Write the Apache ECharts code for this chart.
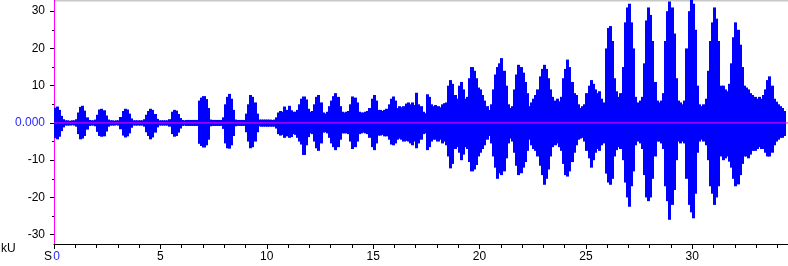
<!DOCTYPE html>
<html>
<head>
<meta charset="utf-8">
<script src="https://cdn.jsdelivr.net/npm/echarts@6/dist/echarts.min.js"></script>
<style>
html,body{margin:0;padding:0;background:#fff;}
#chart{width:788px;height:266px;}
</style>
</head>
<body>
<div id="chart"></div>
<script>
// Time bins (seconds): bin i starts at START + i*STEP
const START = 0;
const STEP = 0.1;

// Upper envelope of the signal (kU) per 0.1 s bin
const upper = [
  4.1, 4.4, 3.5, 1.9, 1.0, 0.7, 0.7, 0.6, 0.7, 0.7,
  1.0, 2.8, 4.3, 4.6, 3.3, 1.5, 0.8, 0.7, 0.7, 0.9,
  2.2, 3.6, 3.8, 3.4, 2.0, 0.9, 0.7, 0.7, 0.6, 0.7,
  0.7, 1.6, 3.2, 3.8, 3.6, 2.5, 1.2, 0.7, 0.7, 0.7,
  0.7, 0.7, 1.0, 2.2, 3.2, 3.8, 3.5, 2.4, 1.1, 0.7,
  0.7, 0.7, 0.7, 0.7, 1.0, 3.0, 3.5, 3.3, 2.4, 1.3,
  0.8, 0.7, 0.8, 0.8, 0.8, 0.8, 0.8, 0.8, 6.0, 6.8,
  7.2, 6.4, 4.0, 0.9, 0.8, 0.8, 0.8, 0.8, 0.8, 1.5,
  5.0, 7.0, 7.8, 6.5, 3.5, 0.9, 0.8, 0.8, 0.8, 0.8,
  2.5, 5.0, 7.5, 7.0, 5.5, 2.5, 0.9, 0.9, 0.9, 0.9,
  0.9, 0.9, 0.8, 0.9, 1.5, 2.8, 3.2, 3.0, 4.4, 3.5,
  4.6, 3.4, 3.0, 3.0, 3.5, 5.0, 6.5, 7.1, 6.3, 3.8,
  3.0, 3.2, 5.0, 7.0, 7.5, 5.5, 2.8, 2.5, 3.0, 4.5,
  6.0, 7.2, 8.0, 7.0, 4.5, 3.0, 2.8, 3.0, 3.2, 5.0,
  7.1, 6.8, 5.5, 3.0, 2.8, 2.8, 3.0, 3.2, 4.0, 6.5,
  7.5, 6.0, 3.5, 3.5, 3.2, 3.5, 3.8, 5.0, 6.5, 7.1,
  6.0, 4.0, 4.5, 4.2, 4.5, 5.2, 5.5, 5.0, 5.5, 4.8,
  8.1, 5.0, 4.5, 3.0, 2.6, 7.7, 7.0, 5.0, 4.5, 4.8,
  4.5, 4.2, 5.0, 5.3, 5.5, 10.0, 11.5, 10.5, 7.5, 6.5,
  10.0, 11.0, 9.0, 6.5, 7.0, 12.0, 15.0, 14.0, 12.0, 9.5,
  9.0, 7.5, 6.0, 4.5, 3.5, 5.0, 9.0, 13.0, 15.0, 16.0,
  17.4, 14.0, 10.0, 5.0, 4.0, 4.5, 9.0, 13.0, 15.6, 15.0,
  13.5, 11.0, 8.0, 4.5, 5.5, 6.5, 7.5, 9.0, 12.5, 14.5,
  15.6, 14.5, 12.0, 9.0, 7.0, 6.0, 6.5, 5.8, 7.0, 12.0,
  14.5, 17.0, 15.0, 11.0, 8.0, 7.5, 5.0, 4.0, 4.5, 5.0,
  8.0, 10.0, 11.5, 10.5, 9.0, 8.0, 8.5, 6.5, 5.5, 20.0,
  25.5, 26.0, 22.0, 12.0, 8.5, 7.0, 8.0, 15.0, 27.0, 31.0,
  32.0, 27.0, 20.0, 7.0, 5.5, 6.0, 7.0, 16.0, 27.5, 31.0,
  29.0, 22.0, 11.0, 6.0, 5.5, 6.0, 8.0, 22.0, 30.0, 32.6,
  31.0, 24.0, 12.0, 6.0, 5.5, 5.0, 6.0, 20.0, 30.0, 33.0,
  32.0, 25.0, 10.0, 5.0, 4.5, 5.0, 6.5, 14.0, 22.0, 27.0,
  31.0, 28.0, 22.0, 10.0, 10.0, 9.0, 8.5, 10.5, 16.0, 23.0,
  27.0, 25.0, 21.0, 15.0, 10.0, 9.5, 9.0, 8.0, 7.5, 7.0,
  6.5, 7.0, 6.5, 7.5, 9.0, 11.5, 12.5, 10.0, 6.5, 5.7,
  5.0, 4.5, 4.0, 3.2
];

// Lower envelope of the signal (kU) per 0.1 s bin
const lower = [
  -4.1, -4.4, -3.7, -2.2, -1.2, -0.7, -0.7, -0.7, -0.6, -0.7,
  -1.0, -3.0, -4.4, -4.2, -3.5, -1.8, -0.8, -0.7, -0.7, -0.9,
  -2.4, -3.5, -3.7, -3.6, -2.3, -1.0, -0.7, -0.7, -0.7, -0.6,
  -0.7, -1.7, -3.4, -3.9, -3.6, -2.8, -1.3, -0.7, -0.7, -0.7,
  -0.7, -0.7, -1.0, -2.5, -3.5, -4.4, -3.9, -2.6, -1.2, -0.7,
  -0.7, -0.7, -0.7, -0.7, -1.0, -3.0, -3.7, -3.5, -2.6, -1.5,
  -0.8, -0.7, -0.8, -0.8, -0.8, -0.8, -0.8, -0.8, -5.6, -6.2,
  -6.6, -6.0, -4.5, -0.9, -0.8, -0.8, -0.8, -0.8, -0.8, -1.6,
  -5.5, -6.8, -6.9, -6.0, -3.5, -0.9, -0.8, -0.8, -0.8, -0.8,
  -2.5, -5.0, -6.8, -6.5, -5.0, -2.5, -0.9, -1.0, -1.0, -1.0,
  -1.0, -1.0, -1.0, -1.0, -1.5, -3.0, -3.4, -3.2, -4.0, -3.6,
  -4.0, -3.8, -3.0, -3.2, -4.0, -5.0, -5.8, -8.6, -6.0, -3.8,
  -2.8, -3.0, -5.0, -6.8, -7.5, -5.5, -2.6, -2.5, -2.8, -4.0,
  -5.5, -6.5, -7.3, -6.5, -4.5, -2.8, -2.8, -2.8, -3.0, -5.0,
  -7.0, -6.5, -5.0, -3.0, -2.8, -2.6, -2.8, -3.0, -4.0, -6.5,
  -7.3, -5.5, -3.4, -3.4, -3.2, -3.6, -3.6, -4.5, -5.8, -6.0,
  -5.5, -4.5, -4.2, -4.5, -5.0, -4.8, -5.0, -5.5, -6.0, -5.0,
  -6.8, -5.5, -4.5, -3.0, -2.8, -7.3, -6.5, -5.0, -4.5, -4.5,
  -5.0, -4.5, -5.5, -5.0, -6.0, -9.0, -12.2, -11.0, -7.0, -6.5,
  -8.0, -10.0, -8.5, -6.5, -7.0, -10.5, -13.0, -12.5, -11.3, -9.0,
  -8.0, -7.0, -6.0, -4.5, -3.5, -5.5, -9.0, -12.0, -15.0, -13.5,
  -14.0, -13.0, -9.5, -5.5, -4.2, -5.0, -8.0, -11.5, -14.0, -13.5,
  -12.0, -10.5, -7.5, -4.5, -6.0, -7.0, -7.5, -9.0, -11.5, -14.0,
  -16.6, -15.0, -12.5, -9.0, -6.5, -6.0, -5.5, -6.5, -7.5, -11.0,
  -14.0, -14.4, -13.0, -10.5, -8.0, -6.0, -4.5, -4.2, -4.0, -5.0,
  -7.5, -9.5, -12.0, -10.0, -8.0, -7.0, -7.5, -6.0, -5.5, -13.6,
  -16.0, -16.6, -15.0, -9.0, -7.3, -6.5, -7.0, -10.0, -16.0, -20.0,
  -22.5, -17.0, -13.0, -6.0, -5.0, -5.5, -7.0, -14.0, -20.0, -21.0,
  -20.0, -15.0, -9.0, -5.0, -5.0, -5.5, -7.0, -17.0, -21.0, -26.0,
  -22.0, -18.0, -10.0, -5.0, -5.5, -5.0, -5.5, -15.0, -22.0, -24.0,
  -25.6, -19.0, -8.0, -5.0, -4.5, -5.0, -6.0, -10.0, -17.0, -19.0,
  -22.0, -20.0, -17.0, -9.0, -10.0, -9.5, -9.0, -10.4, -12.0, -15.0,
  -17.0, -16.5, -14.0, -11.0, -9.0, -9.0, -9.5, -8.5, -7.5, -7.5,
  -7.0, -6.5, -7.0, -7.0, -8.0, -9.0, -9.0, -8.0, -6.0, -5.0,
  -4.5, -4.0, -4.0, -3.5
];

// Axis ticks
const xMajorTicks = [0, 5, 10, 15, 20, 25, 30];
const xMinorTicks = [1, 2, 3, 4, 6, 7, 8, 9, 11, 12, 13, 14, 16, 17, 18, 19, 21, 22, 23, 24, 26, 27, 28, 29, 31, 32, 33, 34];
const yMajorTicks = [-30, -20, -10, 0, 10, 20, 30];
const yMinorTicks = [-25, -15, -5, 5, 15, 25];
const X_MIN = 0, X_MAX = 34.5;
const Y_MIN = -32.5, Y_MAX = 33;

const FONT = 'Liberation Sans, Arial, sans-serif';
const BLUE_TXT = '#2828ff';

const envData = upper.map((u, i) => [START + i * STEP, lower[i], u]);

const chart = echarts.init(document.getElementById('chart'), null, {renderer: 'canvas'});

const baseX = {
  type: 'value', min: X_MIN, max: X_MAX, position: 'bottom',
  splitLine: {show: false}
};
const baseY = {
  type: 'value', min: Y_MIN, max: Y_MAX, position: 'left',
  splitLine: {show: false}
};

chart.setOption({
  animation: false,
  backgroundColor: '#ffffff',
  grid: {left: 54, right: 0, top: 0, bottom: 22, containLabel: false},
  xAxis: [
    Object.assign({}, baseX, {
      axisLine: {show: true, onZero: false, lineStyle: {color: '#000', width: 1}},
      axisTick: {show: true, length: 5, customValues: xMajorTicks, lineStyle: {color: '#000'}},
      axisLabel: {
        show: true, customValues: xMajorTicks, margin: 7,
        fontFamily: FONT, fontSize: 12, color: '#000',
        formatter: v => v === 0 ? '{z|0}' : String(v),
        rich: {z: {color: BLUE_TXT, fontFamily: FONT, fontSize: 12, padding: [0, 0, 0, 5]}}
      }
    }),
    Object.assign({}, baseX, {
      axisLine: {show: false, onZero: false},
      axisTick: {show: true, length: 4, customValues: xMinorTicks, lineStyle: {color: '#000'}},
      axisLabel: {show: false}
    })
  ],
  yAxis: [
    Object.assign({}, baseY, {
      axisLine: {show: true, onZero: false, lineStyle: {color: '#ff00ff', width: 1}},
      axisTick: {show: true, length: 4, customValues: yMajorTicks, lineStyle: {color: '#000'}},
      axisLabel: {
        show: true, customValues: yMajorTicks, margin: 9,
        fontFamily: FONT, fontSize: 12, color: '#000',
        formatter: v => v === 0 ? '{z|0.000}' : String(v),
        rich: {z: {color: BLUE_TXT, fontFamily: FONT, fontSize: 12}}
      }
    }),
    Object.assign({}, baseY, {
      axisLine: {show: false, onZero: false},
      axisTick: {show: true, length: 2, customValues: yMinorTicks, lineStyle: {color: '#000'}},
      axisLabel: {show: false}
    })
  ],
  series: [
    {
      type: 'custom',
      xAxisIndex: 0, yAxisIndex: 0,
      encode: {x: 0, y: [1, 2]},
      data: envData,
      silent: true,
      z: 2,
      renderItem: function (params, api) {
        const t = api.value(0), lo = api.value(1), hi = api.value(2);
        const a = api.coord([t, hi]);
        const b = api.coord([t + STEP, lo]);
        const x0 = Math.floor(a[0]);
        const x1 = Math.ceil(b[0]);
        return {
          type: 'rect',
          shape: {x: x0, y: a[1], width: Math.max(1, x1 - x0), height: b[1] - a[1]},
          style: {fill: '#0000ff', stroke: null}
        };
      }
    },
    {
      type: 'line',
      xAxisIndex: 0, yAxisIndex: 0,
      data: [[X_MIN, 0], [X_MAX, 0]],
      symbol: 'none',
      silent: true,
      z: 5,
      lineStyle: {color: '#ff00ff', width: 1}
    }
  ],
  graphic: [
    {type: 'rect', left: 54, top: 0, shape: {width: 734, height: 1.5}, style: {fill: '#c8c8c8'}, silent: true},
    {type: 'text', left: 1, top: 243, style: {text: 'kU', fontFamily: FONT, fontSize: 12, fill: '#000'}},
    {type: 'text', left: 44, top: 251, style: {text: 'S', fontFamily: FONT, fontSize: 12, fill: '#000'}}
  ]
});
</script>
</body>
</html>
